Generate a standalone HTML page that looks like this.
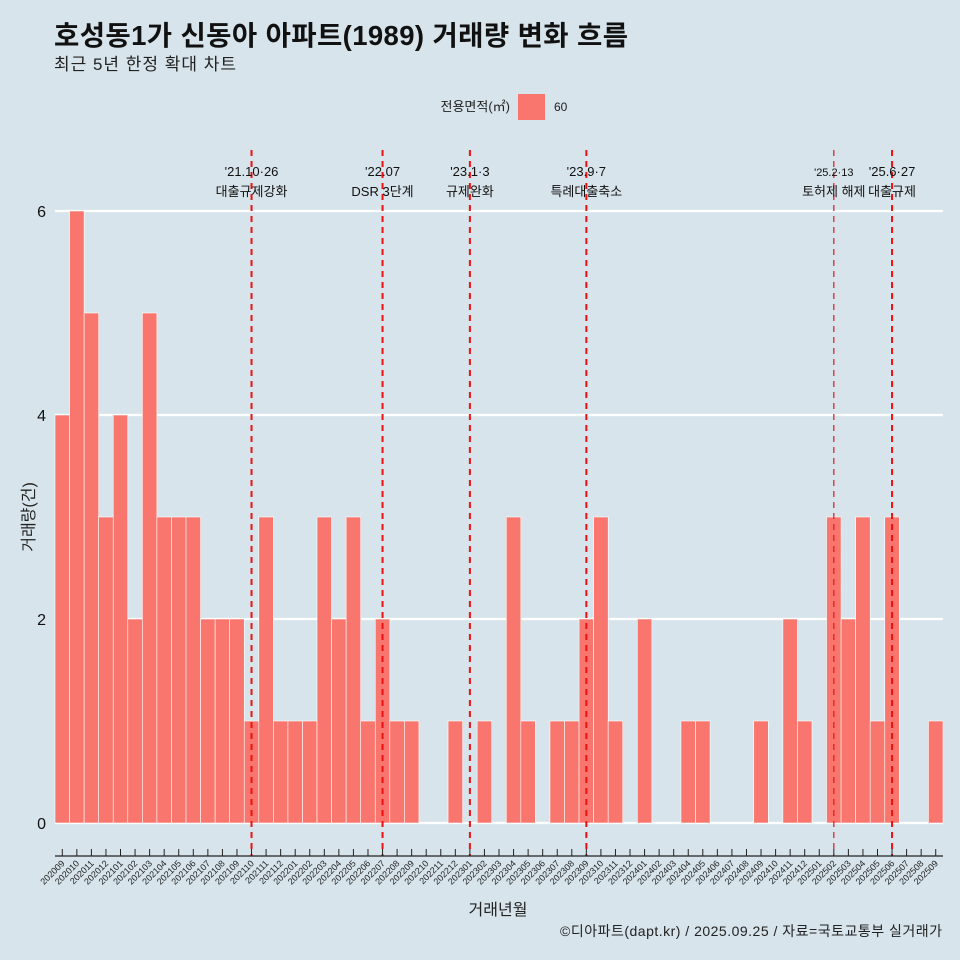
<!DOCTYPE html>
<html><head><meta charset="utf-8"><style>
body{margin:0;background:#d7e4eb;}
svg{display:block;font-family:"Liberation Sans","Noto Sans CJK KR",sans-serif;}
</style></head><body>
<svg id="chart" width="960" height="960" viewBox="0 0 960 960">
<rect width="960" height="960" fill="#d7e4eb"/>
<text x="54" y="45" font-size="27.5" font-weight="bold" fill="#111" textLength="574">호성동1가 신동아 아파트(1989) 거래량 변화 흐름</text>
<text x="54" y="70" font-size="17" fill="#222" textLength="182">최근 5년 한정 확대 차트</text>
<g>
<text x="510" y="111" font-size="13" text-anchor="end" fill="#222">전용면적(㎡)</text>
<rect x="518" y="94" width="27" height="26" fill="#f8766d"/>
<text x="554" y="111" font-size="12" fill="#222">60</text>
</g>
<g id="grid"></g>
<g id="bars"></g>
<g id="events"></g>
<g id="xaxis"></g>
<text transform="translate(34,517) rotate(-90)" font-size="16" text-anchor="middle" fill="#222">거래량(건)</text>
<text x="498" y="915" font-size="16" text-anchor="middle" fill="#222">거래년월</text>
<text x="942" y="936" font-size="14" text-anchor="end" fill="#222" textLength="382">©디아파트(dapt.kr) / 2025.09.25 / 자료=국토교통부 실거래가</text>
</svg>
<script>
const months=["202009","202010","202011","202012","202101","202102","202103","202104","202105","202106","202107","202108","202109","202110","202111","202112","202201","202202","202203","202204","202205","202206","202207","202208","202209","202210","202211","202212","202301","202302","202303","202304","202305","202306","202307","202308","202309","202310","202311","202312","202401","202402","202403","202404","202405","202406","202407","202408","202409","202410","202411","202412","202501","202502","202503","202504","202505","202506","202507","202508","202509"];
const counts=[4,6,5,3,4,2,5,3,3,3,2,2,2,1,3,1,1,1,3,2,3,1,2,1,1,0,0,1,0,1,0,3,1,0,1,1,2,3,1,0,2,0,0,1,1,0,0,0,1,0,2,1,0,3,2,3,1,3,0,0,1];
const yTicks=[0,2,4,6];
const eventMonths=["202110","202207","202301","202309","202502","202506"];
const eventDates=["'21.10·26","'22.07","'23.1·3","'23.9·7","'25.2·13","'25.6·27"];
const eventLabels=["대출규제강화","DSR 3단계","규제완화","특례대출축소","토허제 해제","대출규제"];

const NS="http://www.w3.org/2000/svg";
const X0=55,X1=943,Y0=823,PPU=102;
const bw=(X1-X0)/months.length;
const xC=i=>X0+bw*(i+0.5);
const y=v=>Y0-v*PPU;
function mk(tag,attrs,parent){const e=document.createElementNS(NS,tag);for(const k in attrs)e.setAttribute(k,attrs[k]);parent.appendChild(e);return e;}
const grid=document.getElementById('grid'),bars=document.getElementById('bars'),ev=document.getElementById('events'),xa=document.getElementById('xaxis');
yTicks.forEach(t=>{
 const l=mk('line',{x1:X0,x2:X1,y1:y(t),y2:y(t),stroke:'#fff','stroke-width':2.2},grid);
 
 
 const tx=mk('text',{x:46,y:y(t)+6,'font-size':16,'text-anchor':'end',fill:'#111'},grid);
 tx.textContent=t;
 
 
});
counts.forEach((c,i)=>{
 if(c<=0)return;
 const r=mk('rect',{x:xC(i)-bw/2,y:y(c),width:bw,height:c*PPU,fill:'#f8766d',stroke:'#fff','stroke-width':0.6},bars);
 
 
});
eventMonths.forEach((m,k)=>{
 const i=months.indexOf(m);const x=xC(i);
 const thin=k===4;
 const l=mk('line',{x1:x,x2:x,y1:150,y2:856,stroke:'#ee1111','stroke-width':thin?1.2:2,'stroke-dasharray':'6,5'},ev);
 
 
 const d=mk('text',{x:x,y:176,'font-size':thin?11:13,'text-anchor':'middle',fill:'#111'},ev);
 d.textContent=eventDates[k];
 
 
 const t=mk('text',{x:x,y:196,'font-size':13,'text-anchor':'middle',fill:'#111'},ev);
 t.textContent=eventLabels[k];
 
 
});
const ax=mk('line',{x1:X0,x2:X1,y1:856,y2:856,stroke:'#222','stroke-width':1.2},xa);


months.forEach((m,i)=>{
 const x=xC(i);
 const t=mk('line',{x1:x,x2:x,y1:849,y2:856,stroke:'#222','stroke-width':1},xa);
 
 
 const tx=mk('text',{x:x+3,y:864,'font-size':9,'text-anchor':'end',fill:'#222',transform:`rotate(-45 ${x+3} 864)`},xa);
 tx.textContent=m;
 
 
});
</script>
</body></html>
